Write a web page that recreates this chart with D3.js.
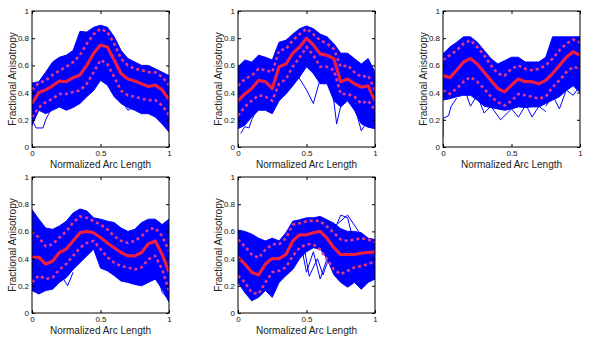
<!DOCTYPE html>
<html>
<head>
<meta charset="utf-8">
<script src="https://cdn.jsdelivr.net/npm/d3@7"></script>
<style>
  html, body { margin: 0; padding: 0; background: #fff; }
  svg { display: block; }
  text { font-family: "Liberation Sans", Arial, Helvetica, sans-serif; }
</style>
</head>
<body>
<svg id="chart" width="594" height="345"></svg>
<script>
// ---------------- data ----------------
const xTicks = [0, 0.5, 1];
const yTicks = [0, 0.2, 0.4, 0.6, 0.8, 1];
const xLabel = "Normalized Arc Length";
const yLabel = "Fractional Anisotropy";

// common sampling positions along the normalized arc length
const arcGrid = [0,0.05,0.1,0.15,0.2,0.25,0.3,0.35,0.4,0.45,0.5,0.55,0.6,0.65,0.7,0.75,0.8,0.85,0.9,0.95,1];

// panel 1
const p1Mean  = [0.32,0.40,0.42,0.45,0.485,0.48,0.51,0.53,0.60,0.69,0.75,0.735,0.64,0.54,0.50,0.485,0.465,0.445,0.455,0.42,0.35];
const p1Upper = [0.42,0.47,0.49,0.53,0.56,0.59,0.625,0.675,0.76,0.83,0.87,0.845,0.76,0.65,0.60,0.575,0.565,0.55,0.55,0.515,0.455];
const p1Lower = [0.22,0.29,0.33,0.355,0.39,0.39,0.405,0.415,0.465,0.55,0.64,0.61,0.515,0.415,0.38,0.37,0.355,0.345,0.345,0.305,0.235];
const p1Max   = [0.47,0.48,0.55,0.625,0.66,0.675,0.71,0.85,0.845,0.88,0.895,0.88,0.81,0.71,0.65,0.625,0.60,0.60,0.575,0.55,0.525];
const p1Min   = [0.16,0.27,0.245,0.27,0.295,0.27,0.29,0.32,0.37,0.415,0.49,0.455,0.37,0.32,0.29,0.27,0.245,0.245,0.22,0.17,0.11];
const p1Outliers = [
  [[0,0.2],[0.03,0.14],[0.08,0.14],[0.1,0.2],[0.15,0.3]],
  [[0.65,0.35],[0.7,0.27],[0.75,0.3],[0.8,0.26],[0.85,0.3]]
];

// panel 2
const p2Mean  = [0.34,0.39,0.43,0.49,0.48,0.43,0.59,0.61,0.69,0.735,0.80,0.75,0.685,0.675,0.65,0.48,0.50,0.465,0.44,0.45,0.34];
const p2Upper = [0.45,0.50,0.525,0.575,0.565,0.55,0.71,0.72,0.785,0.83,0.87,0.83,0.785,0.76,0.72,0.59,0.60,0.55,0.515,0.525,0.415];
const p2Lower = [0.23,0.295,0.34,0.38,0.37,0.34,0.465,0.50,0.59,0.66,0.735,0.675,0.59,0.59,0.565,0.39,0.39,0.37,0.32,0.34,0.27];
const p2Max   = [0.59,0.64,0.625,0.675,0.66,0.64,0.77,0.785,0.83,0.87,0.89,0.87,0.83,0.81,0.76,0.69,0.69,0.65,0.61,0.65,0.55];
const p2Min   = [0.135,0.16,0.22,0.27,0.27,0.245,0.34,0.39,0.45,0.515,0.59,0.54,0.465,0.465,0.34,0.295,0.34,0.27,0.17,0.145,0.135];
const p2Outliers = [
  [[0.02,0.1],[0.05,0.15],[0.08,0.14],[0.1,0.2],[0.15,0.3]],
  [[0.42,0.55],[0.5,0.42],[0.55,0.32],[0.6,0.5]],
  [[0.68,0.5],[0.72,0.17],[0.75,0.3]],
  [[0.85,0.3],[0.9,0.12],[0.95,0.2]]
];

// panel 3
const p3Mean  = [0.525,0.51,0.565,0.625,0.65,0.61,0.55,0.49,0.43,0.405,0.455,0.50,0.48,0.48,0.465,0.49,0.54,0.60,0.66,0.70,0.675];
const p3Upper = [0.64,0.675,0.71,0.76,0.785,0.735,0.675,0.60,0.54,0.525,0.575,0.60,0.575,0.565,0.575,0.60,0.65,0.71,0.76,0.79,0.77];
const p3Lower = [0.415,0.39,0.43,0.48,0.515,0.48,0.43,0.37,0.33,0.305,0.34,0.39,0.38,0.37,0.355,0.37,0.44,0.49,0.55,0.59,0.575];
const p3Max   = [0.685,0.735,0.77,0.81,0.81,0.77,0.71,0.65,0.61,0.635,0.66,0.66,0.625,0.625,0.625,0.66,0.81,0.81,0.81,0.81,0.81];
const p3Min   = [0.345,0.355,0.37,0.38,0.38,0.345,0.30,0.29,0.28,0.27,0.28,0.295,0.29,0.295,0.295,0.32,0.345,0.37,0.415,0.45,0.40];
const p3Outliers = [
  [[0,0.07],[0,0.21],[0.04,0.23],[0.06,0.3],[0.1,0.36]],
  [[0.15,0.45],[0.2,0.3],[0.25,0.38],[0.3,0.25],[0.35,0.3]],
  [[0.35,0.3],[0.42,0.2],[0.5,0.28],[0.55,0.22],[0.6,0.3]],
  [[0.6,0.32],[0.65,0.22],[0.7,0.3],[0.75,0.26]],
  [[0.75,0.3],[0.8,0.38],[0.85,0.28],[0.9,0.42],[0.95,0.38],[1,0.45]]
];

// panel 4
const p4Mean  = [0.41,0.41,0.36,0.38,0.445,0.47,0.53,0.59,0.60,0.59,0.555,0.515,0.48,0.445,0.42,0.42,0.445,0.51,0.53,0.43,0.30];
const p4Upper = [0.60,0.555,0.49,0.505,0.555,0.60,0.665,0.71,0.70,0.675,0.65,0.615,0.565,0.53,0.515,0.53,0.565,0.615,0.625,0.565,0.455];
const p4Lower = [0.225,0.275,0.25,0.26,0.32,0.36,0.42,0.48,0.515,0.53,0.47,0.41,0.37,0.345,0.335,0.32,0.335,0.395,0.42,0.32,0.165];
const p4Max   = [0.76,0.69,0.625,0.615,0.64,0.675,0.735,0.765,0.75,0.70,0.69,0.675,0.665,0.625,0.60,0.615,0.665,0.69,0.69,0.65,0.69];
const p4Min   = [0.165,0.14,0.165,0.175,0.225,0.26,0.32,0.37,0.42,0.47,0.33,0.31,0.275,0.235,0.225,0.21,0.20,0.225,0.25,0.175,0.08];
const p4Outliers = [
  [[0.03,0.62],[0.1,0.6],[0.2,0.6],[0.25,0.62]],
  [[0.2,0.3],[0.26,0.2],[0.3,0.3]],
  [[0.9,0.35],[0.95,0.15],[1,0.1]]
];

// panel 5
const p5Mean  = [0.41,0.36,0.30,0.28,0.36,0.40,0.40,0.43,0.53,0.575,0.575,0.59,0.60,0.55,0.48,0.43,0.43,0.43,0.44,0.445,0.45];
const p5Upper = [0.54,0.49,0.43,0.405,0.465,0.505,0.505,0.55,0.65,0.66,0.675,0.68,0.675,0.635,0.59,0.54,0.53,0.54,0.55,0.54,0.52];
const p5Lower = [0.275,0.225,0.15,0.14,0.225,0.30,0.31,0.335,0.42,0.48,0.505,0.505,0.465,0.395,0.32,0.285,0.31,0.335,0.345,0.36,0.38];
const p5Max   = [0.61,0.60,0.58,0.55,0.53,0.55,0.53,0.59,0.675,0.685,0.70,0.70,0.71,0.685,0.66,0.62,0.60,0.60,0.59,0.55,0.54];
const p5Min   = [0.225,0.15,0.09,0.115,0.165,0.115,0.225,0.275,0.32,0.40,0.45,0.48,0.47,0.40,0.28,0.225,0.19,0.225,0.175,0.225,0.25];
const p5Outliers = [
  [[0.45,0.55],[0.5,0.3],[0.55,0.45],[0.6,0.25],[0.65,0.4]],
  [[0.48,0.5],[0.52,0.27],[0.58,0.4],[0.62,0.28],[0.68,0.45]],
  [[0.7,0.6],[0.75,0.72],[0.8,0.7],[0.85,0.5],[0.9,0.35]],
  [[0.72,0.65],[0.8,0.72],[0.88,0.6],[0.95,0.4],[1,0.5]]
];

const panels = [
  {mean:p1Mean, upper:p1Upper, lower:p1Lower, max:p1Max, min:p1Min, outliers:p1Outliers},
  {mean:p2Mean, upper:p2Upper, lower:p2Lower, max:p2Max, min:p2Min, outliers:p2Outliers},
  {mean:p3Mean, upper:p3Upper, lower:p3Lower, max:p3Max, min:p3Min, outliers:p3Outliers},
  {mean:p4Mean, upper:p4Upper, lower:p4Lower, max:p4Max, min:p4Min, outliers:p4Outliers},
  {mean:p5Mean, upper:p5Upper, lower:p5Lower, max:p5Max, min:p5Min, outliers:p5Outliers}
];

// ---------------- layout ----------------
const colLeft = [32, 238, 443];
const rowTop = [11, 177];
const plotW = 137, plotH = 136;

const svg = d3.select("#chart");

panels.forEach((p, i) => {
  const left = colLeft[i % 3], top = rowTop[Math.floor(i / 3)];
  const x = d3.scaleLinear().domain([0, 1]).range([0, plotW]);
  const y = d3.scaleLinear().domain([0, 1]).range([plotH, 0]);
  const g = svg.append("g").attr("transform", `translate(${left},${top})`);

  const clipId = "clip" + i;
  g.append("clipPath").attr("id", clipId)
    .append("rect").attr("width", plotW).attr("height", plotH);
  const plot = g.append("g").attr("clip-path", `url(#${clipId})`);

  const band = arcGrid.map((t, k) => ({t, hi: p.max[k], lo: p.min[k]}));
  plot.append("path")
    .datum(band)
    .attr("d", d3.area().x(d => x(d.t)).y0(d => y(d.lo)).y1(d => y(d.hi)))
    .attr("fill", "#0000ff")
    .attr("stroke", "#0000ff")
    .attr("stroke-width", 1);

  const line = d3.line().x(d => x(d[0])).y(d => y(d[1]));
  p.outliers.forEach(o => {
    plot.append("path").datum(o).attr("d", line)
      .attr("fill", "none").attr("stroke", "#0000ff").attr("stroke-width", 1);
  });

  const series = vals => arcGrid.map((t, k) => [t, vals[k]]);
  [p.upper, p.lower].forEach(v => {
    plot.append("path").datum(series(v)).attr("d", line)
      .attr("fill", "none").attr("stroke", "#e0388c")
      .attr("stroke-width", 2.6).attr("stroke-dasharray", "3,3");
  });
  plot.append("path").datum(series(p.mean)).attr("d", line)
    .attr("fill", "none").attr("stroke", "#ee1e3e")
    .attr("stroke-width", 3.2).attr("stroke-linejoin", "round");

  // axes
  const fmt = d3.format("~g");
  const ax = g.append("g").attr("transform", `translate(0,${plotH})`)
    .call(d3.axisBottom(x).tickValues(xTicks).tickSize(-3).tickPadding(3).tickFormat(fmt));
  const ay = g.append("g")
    .call(d3.axisLeft(y).tickValues(yTicks).tickSize(-3).tickPadding(3).tickFormat(fmt));
  const at = g.append("g")
    .call(d3.axisTop(x).tickValues(xTicks).tickSize(-3).tickFormat(""));
  const ar = g.append("g").attr("transform", `translate(${plotW},0)`)
    .call(d3.axisRight(y).tickValues(yTicks).tickSize(-3).tickFormat(""));
  [ax, ay, at, ar].forEach(a => {
    a.select(".domain").remove();
    a.selectAll("line").attr("stroke", "#000");
    a.selectAll("text").attr("fill", "#111").style("font-size", "8px")
      .style("font-family", "'Liberation Sans', Arial, sans-serif");
  });
  g.append("rect").attr("width", plotW).attr("height", plotH)
    .attr("fill", "none").attr("stroke", "#000").attr("stroke-width", 1);

  g.append("text")
    .attr("x", plotW / 2).attr("y", plotH + 20.5)
    .attr("text-anchor", "middle")
    .style("font-size", "10px").attr("fill", "#222")
    .text(xLabel);
  g.append("text")
    .attr("transform", `translate(-16.5,${plotH / 2}) rotate(-90)`)
    .attr("text-anchor", "middle")
    .style("font-size", "10px").attr("fill", "#222")
    .text(yLabel);
});
</script>
</body>
</html>
